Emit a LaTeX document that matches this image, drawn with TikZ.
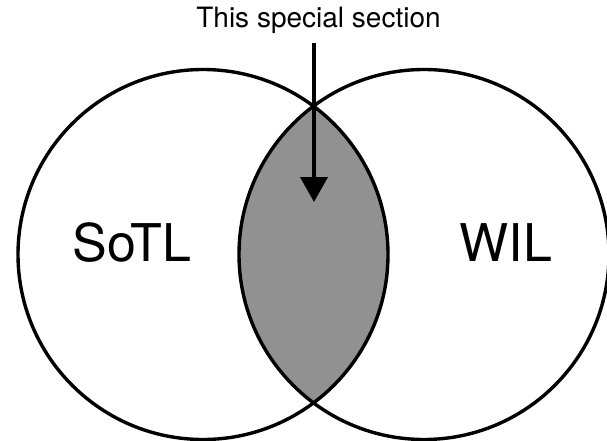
\documentclass[tikz,border=0pt]{standalone}
\usepackage{fontspec}
\setmainfont{TeX Gyre Heros}
\usetikzlibrary{arrows.meta}

\definecolor{lensgray}{HTML}{919191}

\tikzset{
  setcircle/.style={circle, draw=black, line width=3.4pt, minimum size=370pt, inner sep=0pt},
  biglabel/.style={font=\fontsize{52}{58}\selectfont, inner sep=0pt},
  toplabel/.style={font=\fontsize{28}{31}\selectfont, inner sep=0pt},
  pointer/.style={line width=4pt, -{Triangle[length=25pt,width=27pt]}}
}

\begin{document}
\begin{tikzpicture}[x=1pt, y=-1pt]
  \useasboundingbox (0,0) rectangle (607,441);

  % shaded overlap of the two sets
  \begin{scope}
    \clip (203,254.5) circle (185pt);
    \fill[lensgray] (424,254.5) circle (185pt);
  \end{scope}

  % the two sets
  \node[setcircle] (sotlset) at (203,254.5) {};
  \node[setcircle] (wilset) at (424,254.5) {};

  % set names
  \node[biglabel] (sotl) at (132,243) {SoTL};
  \node[biglabel] (wil) at (506,243) {WIL};

  % caption and its pointer into the overlap
  \node[toplabel, anchor=base] (caption) at (318.5,28) {This special section};
  \coordinate (arrowstart) at (314,43);
  \coordinate (arrowend) at (314,202);
  \draw[pointer] (arrowstart) -- (arrowend);
\end{tikzpicture}
\end{document}
